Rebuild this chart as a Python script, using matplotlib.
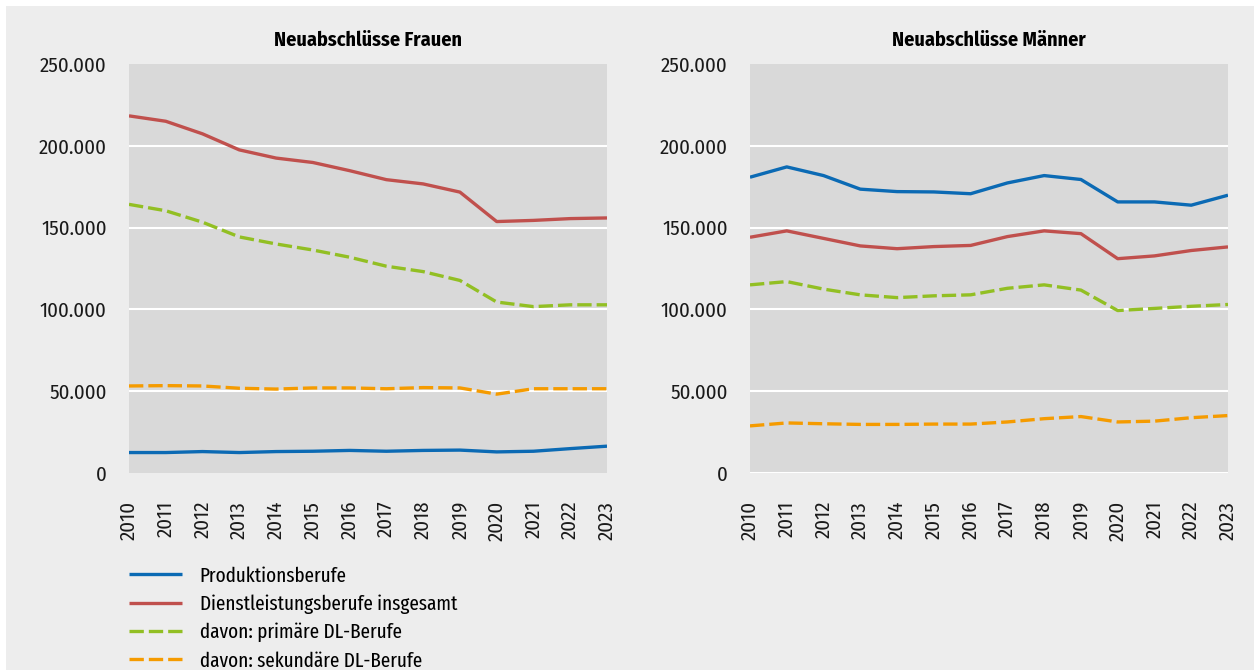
import matplotlib
matplotlib.use("Agg")
import matplotlib.pyplot as plt
from matplotlib import font_manager
from matplotlib.patches import Rectangle
from matplotlib.ticker import FuncFormatter

# --- Data ---
years = list(range(2010, 2024))

frauen_produktion = [12500, 12500, 13100, 12500, 13100, 13300, 13800, 13300, 13800, 14000, 12900, 13300, 14900, 16400]
frauen_dl_gesamt = [218300, 215000, 207300, 197500, 192500, 189800, 184800, 179300, 176700, 171700, 153700, 154400, 155500, 155900]
frauen_dl_primaer = [164200, 160300, 153300, 144300, 140000, 136300, 131900, 126400, 123100, 117700, 104500, 101700, 102800, 102800]
frauen_dl_sekundaer = [53200, 53400, 53200, 51800, 51300, 52000, 52000, 51500, 52200, 52000, 48200, 51500, 51500, 51500]

maenner_produktion = [180800, 187100, 181800, 173500, 172000, 171800, 170700, 177300, 181800, 179400, 165700, 165700, 163700, 169800]
maenner_dl_gesamt = [144100, 148000, 143400, 138800, 137100, 138400, 139100, 144500, 148000, 146300, 131000, 132700, 136000, 138200]
maenner_dl_primaer = [115000, 117000, 112400, 108900, 107200, 108300, 108900, 112900, 115000, 111800, 99300, 100600, 101900, 103000]
maenner_dl_sekundaer = [28800, 30600, 30100, 29700, 29700, 29900, 29900, 31200, 33200, 34500, 31200, 31700, 33800, 35100]

series_labels = [
    "Produktionsberufe",
    "Dienstleistungsberufe insgesamt",
    "davon: primäre DL-Berufe",
    "davon: sekundäre DL-Berufe",
]
panel_titles = ["Neuabschlüsse Frauen", "Neuabschlüsse Männer"]
y_ticks = [0, 50000, 100000, 150000, 200000, 250000]

# --- Style ---
colors = ["#0b6ab4", "#c0504d", "#92bf23", "#f59b00"]
styles = ["-", "-", (0, (4.3, 1.5)), (0, (4.3, 1.5))]
BG = "#ededed"
PLOT_BG = "#d9d9d9"


def pick_font(candidates):
    names = {f.name for f in font_manager.fontManager.ttflist}
    for c in candidates:
        if c in names:
            return c
    return "DejaVu Sans"


FONT = pick_font(["Fira Sans Condensed", "Roboto Condensed", "DejaVu Sans"])
LEGEND_FONT = pick_font(["Fira Sans Extra Condensed", "Fira Sans Condensed", "Roboto Condensed", "DejaVu Sans"])
plt.rcParams["font.family"] = [FONT, "DejaVu Sans"]

W, H = 1254, 670
fig = plt.figure(figsize=(W / 100, H / 100), dpi=100, facecolor="white")
fig.patches.append(Rectangle((6 / W, 0), 1, 1 - 6 / H, transform=fig.transFigure,
                             facecolor=BG, edgecolor="none", zorder=-10))


def thousands(v, _pos):
    return f"{int(v):,}".replace(",", ".")


def draw_panel(ax, data, title, zero_grid):
    ax.set_facecolor(PLOT_BG)
    for vals, c, ls in zip(data, colors, styles):
        ax.plot(years, vals, color=c, linestyle=ls, linewidth=2.4,
                solid_capstyle="butt", dash_capstyle="butt")
    ax.set_xlim(years[0], years[-1])
    ax.set_ylim(0, 250000)
    ax.set_yticks(y_ticks)
    ax.yaxis.set_major_formatter(FuncFormatter(thousands))
    ax.set_xticks(years)
    ax.set_xticklabels([str(y) for y in years], rotation=90)
    for v in y_ticks[1:-1] + ([0] if zero_grid else []):
        ax.axhline(v, color="white", linewidth=1.5, zorder=0.5)
    for s in ax.spines.values():
        s.set_visible(False)
    ax.tick_params(axis="both", length=0, labelsize=15, colors="#1a1a1a")
    ax.tick_params(axis="y", pad=16)
    ax.tick_params(axis="x", pad=20)
    ax.set_title(title, fontsize=14.5, fontweight="bold", pad=13)


ax1 = fig.add_axes([129 / W, 1 - 473 / H, 478 / W, 409 / H])
ax2 = fig.add_axes([750 / W, 1 - 473 / H, 478 / W, 409 / H])

draw_panel(ax1, [frauen_produktion, frauen_dl_gesamt, frauen_dl_primaer, frauen_dl_sekundaer],
           panel_titles[0], zero_grid=False)
draw_panel(ax2, [maenner_produktion, maenner_dl_gesamt, maenner_dl_primaer, maenner_dl_sekundaer],
           panel_titles[1], zero_grid=True)

handles = ax1.get_lines()[:4]
fig.legend(handles, series_labels, loc="upper left",
           bbox_to_anchor=(129 / W, 1 - 566 / H), frameon=False,
           prop={"family": [LEGEND_FONT, "DejaVu Sans"], "size": 15},
           handlelength=2.55, handletextpad=0.85,
           labelspacing=0.42, borderpad=0, borderaxespad=0)

fig.savefig("out.png", dpi=100, facecolor=fig.get_facecolor())
